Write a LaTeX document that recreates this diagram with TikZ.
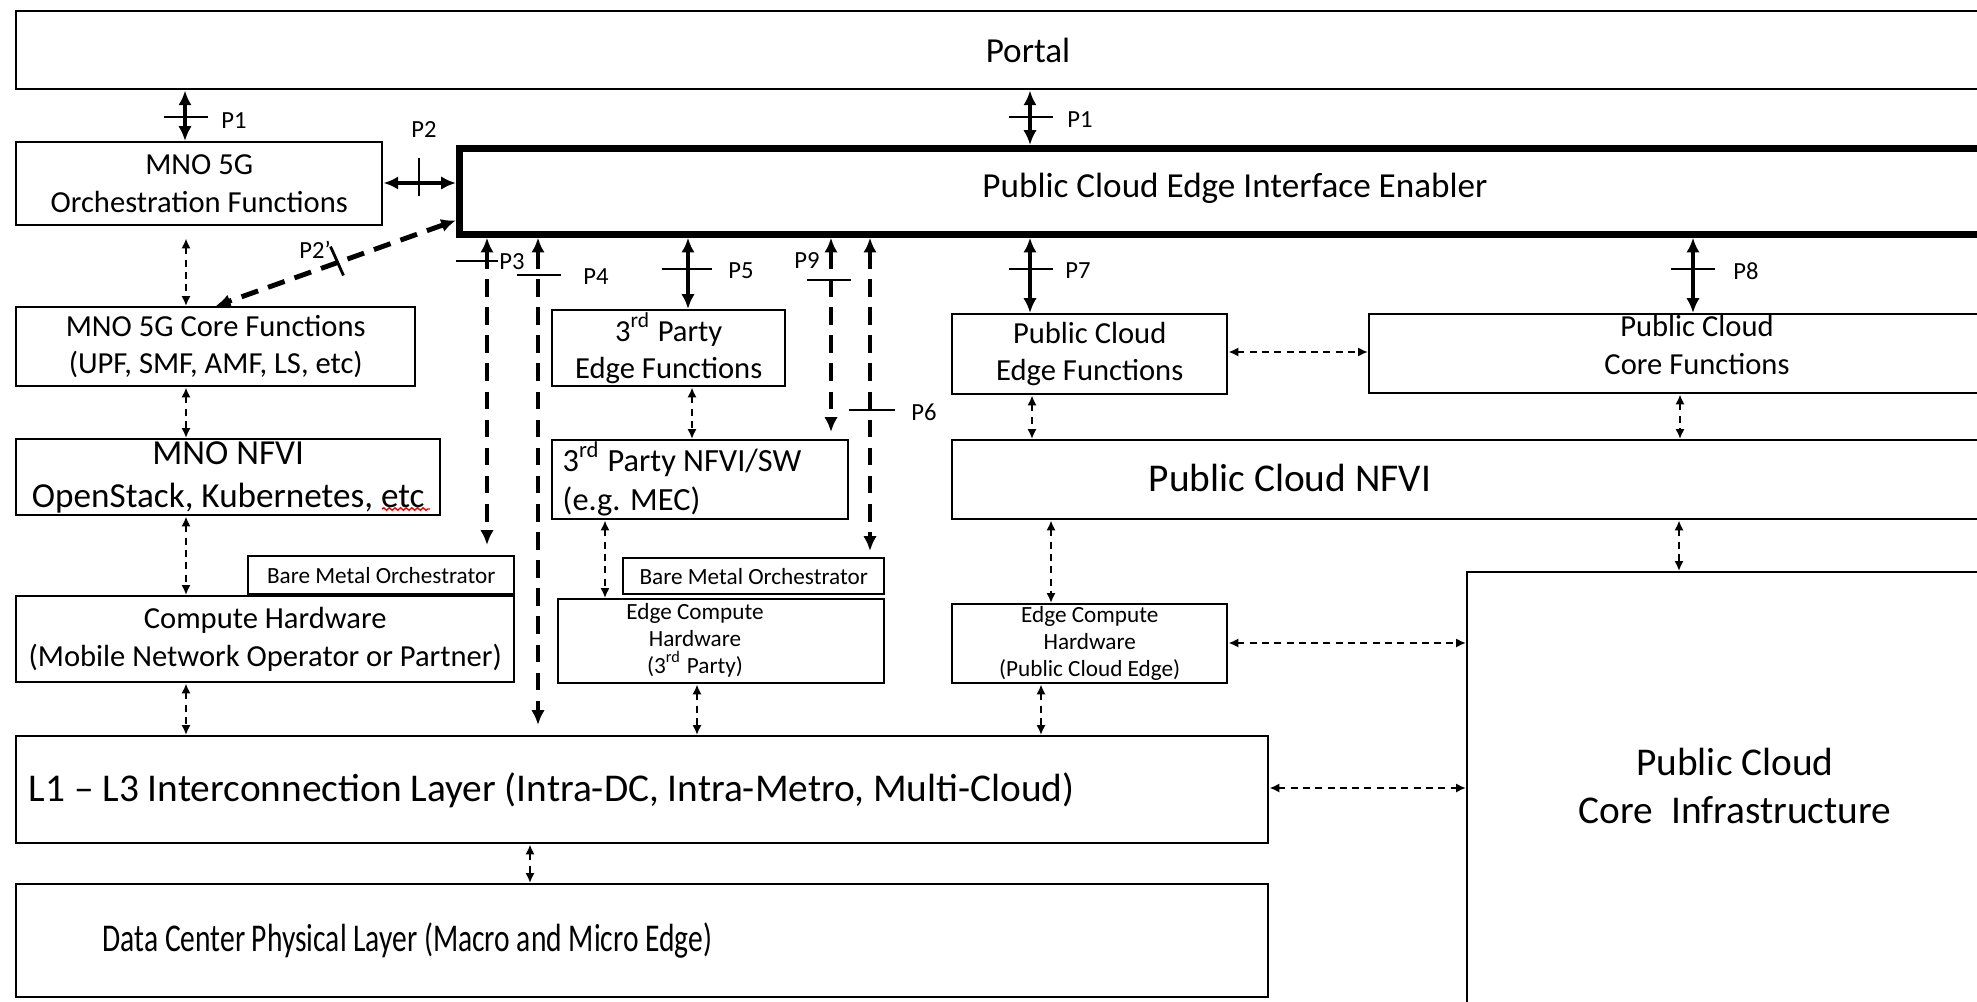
\documentclass[tikz,border=0pt]{standalone}
\usepackage{fontspec}
\setmainfont{Carlito}
\usepackage{graphicx}
\usetikzlibrary{positioning,arrows.meta,decorations.pathmorphing}

\newcommand\boxfont{\fontsize{8.7}{10.6}\selectfont}
\newcommand\midfont{\fontsize{9.2}{11.2}\selectfont}
\newcommand\nfvifont{\fontsize{10}{12.2}\selectfont}
\newcommand\bigfont{\fontsize{11.2}{13.4}\selectfont}
\newcommand\hwfont{\fontsize{6.6}{7.7}\selectfont}
\newcommand\pfont{\fontsize{7}{8}\selectfont}

\begin{document}
\begin{tikzpicture}[>=latex,
    blk/.style={draw, line width=0.7pt, anchor=north west, inner sep=0pt, align=center},
    txt/.style={inner sep=0pt, align=center},
    lnk/.style={<->, line width=0.6pt, dash pattern=on 2pt off 1.5pt, >={Latex[length=2.8pt,width=2.6pt]}},
    ifc/.style={<->, line width=1.4pt, >={Latex[length=4.2pt,width=3.8pt]}},
    ifcd/.style={ifc, dash pattern=on 5pt off 3pt},
    tck/.style={line width=0.8pt},
    plab/.style={font=\pfont, inner sep=0pt}]
    \useasboundingbox (0,0) rectangle (19.77,-10.02);
    \clip (0,0) rectangle (19.77,-10.02);

    % portal and enabler
    \node[blk, minimum width=20cm, minimum height=0.78cm] (portal) at (0.15,-0.10) {};
    \node[txt, font=\nfvifont] (portaltxt) at (10.28,-0.50) {Portal};
    \node[blk, line width=1.9pt, minimum width=16cm, minimum height=0.86cm] (pcie) at (4.56,-1.45) {};
    \node[txt, font=\nfvifont] (pcietxt) at (12.35,-1.88) {Public Cloud Edge Interface Enabler};

    % MNO column
    \node[blk, font=\boxfont, minimum width=3.66cm, minimum height=0.83cm] (orch) at (0.15,-1.41) {MNO 5G\\Orchestration Functions};
    \node[blk, font=\boxfont, minimum width=3.99cm, minimum height=0.79cm] (core) at (0.15,-3.06) {MNO 5G Core Functions\\(UPF, SMF, AMF, LS, etc)};
    \node[blk, font=\nfvifont, minimum width=4.24cm, minimum height=0.76cm] (nfvi) at (0.15,-4.38) {MNO NFVI\\OpenStack, Kubernetes, etc};
    \node[blk, font=\hwfont, minimum width=2.66cm, minimum height=0.38cm] (bmoa) at (2.47,-5.55) {Bare Metal Orchestrator};
    \node[blk, font=\boxfont, minimum width=4.98cm, minimum height=0.86cm] (mnohw) at (0.15,-5.95) {Compute Hardware\\(Mobile Network Operator or Partner)};

    % 3rd party column
    \node[blk, font=\boxfont, minimum width=2.33cm, minimum height=0.76cm] (tpef) at (5.51,-3.09) {3\textsuperscript{rd} Party\\Edge Functions};
    \node[blk, minimum width=2.96cm, minimum height=0.79cm] (tpnfvi) at (5.51,-4.39) {};
    \node[txt, font=\midfont, align=left, anchor=west] (tpnfvitxt) at (5.62,-4.79) {3\textsuperscript{rd} Party NFVI/SW\\(e.g. MEC)};
    \node[blk, font=\hwfont, minimum width=2.61cm, minimum height=0.36cm] (bmob) at (6.22,-5.57) {Bare Metal Orchestrator};
    \node[blk, minimum width=3.26cm, minimum height=0.84cm] (tphw) at (5.57,-5.98) {};
    \node[txt, font=\hwfont] (tphwtxt) at (6.95,-6.40) {Edge Compute\\Hardware\\(3\textsuperscript{rd} Party)};

    % public cloud
    \node[blk, font=\boxfont, minimum width=2.75cm, minimum height=0.80cm] (pcef) at (9.51,-3.13) {Public Cloud\\Edge Functions};
    \node[blk, minimum width=7cm, minimum height=0.79cm] (pccf) at (13.68,-3.13) {};
    \node[txt, font=\boxfont] (pccftxt) at (16.97,-3.45) {Public Cloud\\Core Functions};
    \node[blk, minimum width=11cm, minimum height=0.79cm] (pcnfvi) at (9.51,-4.39) {};
    \node[txt, font=\bigfont] (pcnfvitxt) at (12.90,-4.78) {Public Cloud NFVI};
    \node[blk, font=\hwfont, minimum width=2.75cm, minimum height=0.79cm] (pchw) at (9.51,-6.03) {Edge Compute\\Hardware\\(Public Cloud Edge)};
    \node[blk, minimum width=6cm, minimum height=5cm] (pcci) at (14.66,-5.71) {};
    \node[txt, font=\bigfont] (pccitxt) at (17.35,-7.86) {Public Cloud\\Core~~Infrastructure};

    % layers
    \node[blk, minimum width=12.52cm, minimum height=1.07cm] (icl) at (0.15,-7.35) {};
    \node[txt, font=\bigfont, anchor=west] (icltxt) at (0.28,-7.90) {L1 – L3 Interconnection Layer (Intra-DC, Intra-Metro, Multi-Cloud)};
    \node[blk, minimum width=12.52cm, minimum height=1.13cm] (dcl) at (0.15,-8.83) {};
    \node[txt, font=\bigfont, anchor=west] (dcltxt) at (1.02,-9.40) {\scalebox{0.75}[1]{Data Center Physical Layer (Macro and Micro Edge)}};

    % interface points
    \coordinate (p1a) at (1.85,-1.17);
    \coordinate (p1b) at (10.30,-1.17);
    \coordinate (p2) at (4.19,-1.83);
    \coordinate (p2x) at (3.37,-2.61);
    \coordinate (p3) at (4.87,-2.61);
    \coordinate (p4) at (5.38,-2.75);
    \coordinate (p5) at (6.88,-2.69);
    \coordinate (p9) at (8.31,-2.80);
    \coordinate (p6) at (8.70,-4.10);
    \coordinate (p7) at (10.30,-2.69);
    \coordinate (p8) at (16.93,-2.69);

    \draw[ifc] (portal.south -| p1a) -- (orch.north -| p1a);
    \draw[tck] (p1a) +(-0.21,0) -- +(0.23,0);
    \node[plab] (lp1a) at (2.34,-1.21) {P1};
    \draw[ifc] (portal.south -| p1b) -- (pcie.north -| p1b);
    \draw[tck] (p1b) +(-0.21,0) -- +(0.23,0);
    \node[plab] (lp1b) at (10.80,-1.20) {P1};

    \draw[ifc] (orch.east |- p2) -- (pcie.west |- p2);
    \draw[tck] (p2) +(0,0.25) -- +(0,-0.13);
    \node[plab] (lp2) at (4.24,-1.30) {P2};
    \draw[ifcd] ([yshift=-0.29cm]pcie.west) -- (core.north);
    \draw[tck] (p2x) +(-0.065,0.145) -- +(0.065,-0.145);
    \node[plab] (lp2x) at (3.15,-2.50) {P2’};

    \draw[ifcd, shorten >=0.1cm] (pcie.south -| p3) -- (bmoa.north -| p3);
    \draw[tck] (p3) +(-0.31,0) -- +(0.11,0);
    \node[plab] (lp3) at (5.12,-2.62) {P3};
    \draw[ifcd, shorten >=0.1cm] (pcie.south -| p4) -- (icl.north -| p4);
    \draw[tck] (p4) +(-0.21,0) -- +(0.23,0);
    \node[plab] (lp4) at (5.96,-2.77) {P4};
    \draw[ifc] (pcie.south -| p5) -- (tpef.north -| p5);
    \draw[tck] (p5) +(-0.26,0) -- +(0.24,0);
    \node[plab] (lp5) at (7.41,-2.71) {P5};
    \draw[ifcd, shorten >=0.07cm] (pcie.south -| p9) -- (tpnfvi.north -| p9);
    \draw[tck] (p9) +(-0.24,0) -- +(0.20,0);
    \node[plab] (lp9) at (8.07,-2.61) {P9};
    \draw[ifcd, shorten >=0.06cm] (pcie.south -| p6) -- (bmob.north -| p6);
    \draw[tck] (p6) +(-0.21,0) -- +(0.25,0);
    \node[plab] (lp6) at (9.24,-4.12) {P6};
    \draw[ifc] (pcie.south -| p7) -- (pcef.north -| p7);
    \draw[tck] (p7) +(-0.21,0) -- +(0.23,0);
    \node[plab] (lp7) at (10.78,-2.71) {P7};
    \draw[ifc] (pcie.south -| p8) -- (pccf.north -| p8);
    \draw[tck] (p8) +(-0.22,0) -- +(0.22,0);
    \node[plab] (lp8) at (17.46,-2.71) {P8};

    % dashed links between layers
    \coordinate (xmno) at (1.86,0);
    \coordinate (xtpa) at (6.92,0);
    \coordinate (xtpb) at (6.05,0);
    \coordinate (xtpc) at (6.97,0);
    \coordinate (xdc) at (5.30,0);
    \coordinate (xpca) at (10.32,0);
    \coordinate (xpcb) at (16.80,0);
    \coordinate (xpcc) at (10.51,0);
    \coordinate (xpcd) at (16.79,0);
    \coordinate (xpce) at (10.41,0);
    \coordinate (ya) at (0,-3.52);
    \coordinate (yb) at (0,-6.43);
    \coordinate (yc) at (0,-7.88);

    \draw[lnk, shorten <=0.12cm] (orch.south -| xmno) -- (core.north -| xmno);
    \draw[lnk] (core.south -| xmno) -- (nfvi.north -| xmno);
    \draw[lnk] (nfvi.south -| xmno) -- (mnohw.north -| xmno);
    \draw[lnk] (mnohw.south -| xmno) -- (icl.north -| xmno);
    \draw[lnk] (tpef.south -| xtpa) -- (tpnfvi.north -| xtpa);
    \draw[lnk] (tpnfvi.south -| xtpb) -- (tphw.north -| xtpb);
    \draw[lnk] (tphw.south -| xtpc) -- (icl.north -| xtpc);
    \draw[lnk] (icl.south -| xdc) -- (dcl.north -| xdc);
    \draw[lnk] (pcef.south -| xpca) -- (pcnfvi.north -| xpca);
    \draw[lnk] (pccf.south -| xpcb) -- (pcnfvi.north -| xpcb);
    \draw[lnk] (pcnfvi.south -| xpcc) -- (pchw.north -| xpcc);
    \draw[lnk] (pcnfvi.south -| xpcd) -- (pcci.north -| xpcd);
    \draw[lnk] (pchw.south -| xpce) -- (icl.north -| xpce);
    \draw[lnk] (pcef.east |- ya) -- (pccf.west |- ya);
    \draw[lnk] (pchw.east |- yb) -- (pcci.west |- yb);
    \draw[lnk] (icl.east |- yc) -- (pcci.west |- yc);

    % spell-check mark under etc
    \draw[red, line width=0.4pt, decorate, decoration={snake, amplitude=0.35pt, segment length=1.6pt}] (3.82,-5.09) -- (4.30,-5.09);
\end{tikzpicture}
\end{document}
